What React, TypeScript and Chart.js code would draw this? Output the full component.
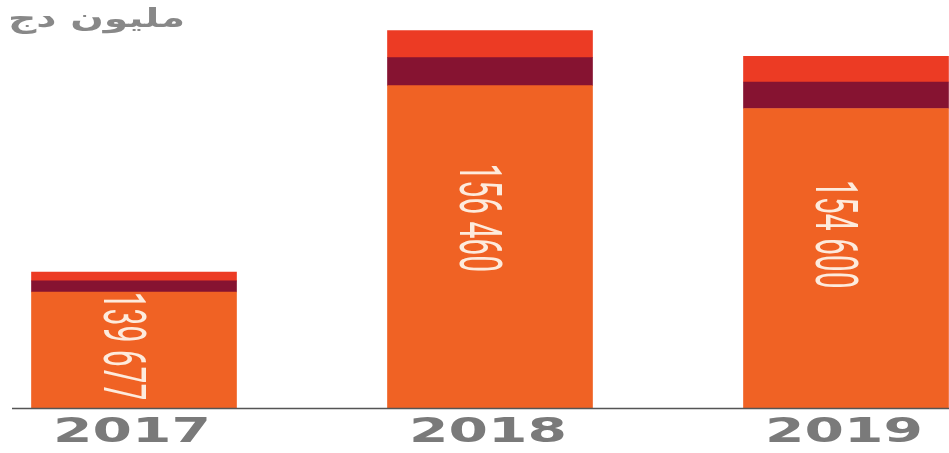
import React, { useEffect, useRef } from "react";
import { Chart, registerables } from "chart.js";

Chart.register(...registerables);

const categories = ["2017", "2018", "2019"];
const mainValues = [139677, 156460, 154600];
const middleValues = [895, 2280, 2150];
const topValues = [730, 2200, 2090];
const unitLabel = "مليون دج";
const yMin = 130240;
const yMax = 163420;

const ORANGE = "#F06224";
const MAROON = "#861331";
const RED = "#EC3B24";

const labelDx = -9;
const labelDy = [-4, -29, -24];

function fmt(v: number): string {
  return String(v).replace(/\B(?=(\d{3})+(?!\d))/g, " ");
}

const drawPlugin = {
  id: "customDraw",
  afterDatasetsDraw(chart: any) {
    const ctx = chart.ctx as CanvasRenderingContext2D;
    const area = chart.chartArea;
    const meta = chart.getDatasetMeta(0);
    ctx.save();
    ctx.strokeStyle = "#555555";
    ctx.lineWidth = 1.5;
    ctx.beginPath();
    ctx.moveTo(12, area.bottom + 0.5);
    ctx.lineTo(chart.width, area.bottom + 0.5);
    ctx.stroke();

    meta.data.forEach((bar: any, i: number) => {
      const base = Math.min(bar.base, area.bottom);
      const cx = bar.x + labelDx;
      const cy = (bar.y + base) / 2 + labelDy[i];
      ctx.save();
      ctx.translate(cx, cy);
      ctx.rotate(Math.PI / 2);
      ctx.scale(1, 2.0);
      ctx.fillStyle = "#FDEBDD";
      ctx.font = "400 30px Roboto";
      ctx.textAlign = "center";
      ctx.textBaseline = "alphabetic";
      ctx.fillText(fmt(mainValues[i]), 0, 10.7);
      ctx.restore();

      ctx.save();
      ctx.translate(bar.x - 2, area.bottom + 34);
      ctx.scale(1.72, 1);
      ctx.fillStyle = "#7a7a7a";
      ctx.font = "bold 33px 'DejaVu Sans'";
      ctx.textAlign = "center";
      ctx.textBaseline = "alphabetic";
      ctx.fillText(categories[i], 0, 0);
      ctx.restore();
    });

    ctx.save();
    ctx.font = "bold 26px 'DejaVu Sans'";
    const w = ctx.measureText(unitLabel).width;
    const sx = 177 / w;
    ctx.translate(8, 27);
    ctx.scale(sx, 1);
    ctx.fillStyle = "#888888";
    ctx.textAlign = "left";
    ctx.textBaseline = "alphabetic";
    ctx.fillText(unitLabel, 0, 0);
    ctx.restore();

    ctx.restore();
  },
};

export default function App() {
  const ref = useRef<HTMLCanvasElement | null>(null);
  useEffect(() => {
    if (!ref.current) return;
    const common = {
      barThickness: 205,
      borderWidth: 0,
      clip: { left: false, right: false, top: false, bottom: 0 } as any,
    };
    const chart = new Chart(ref.current, {
      type: "bar",
      data: {
        labels: categories,
        datasets: [
          { label: "a", data: mainValues, backgroundColor: ORANGE, ...common },
          { label: "b", data: middleValues, backgroundColor: MAROON, ...common },
          { label: "c", data: topValues, backgroundColor: RED, ...common },
        ],
      },
      options: {
        animation: false,
        responsive: true,
        maintainAspectRatio: false,
        layout: { padding: { left: 134, right: 103, top: 0, bottom: 45 } },
        plugins: { legend: { display: false }, tooltip: { enabled: false } },
        scales: {
          x: { display: false, stacked: true, offset: false },
          y: { display: false, stacked: true, min: yMin, max: yMax },
        },
      },
      plugins: [drawPlugin],
    });
    return () => chart.destroy();
  }, []);
  return (
    <div style={{ position: "fixed", left: 0, top: 0, width: 949, height: 453, background: "#fff" }}>
      <canvas ref={ref} />
    </div>
  );
}
